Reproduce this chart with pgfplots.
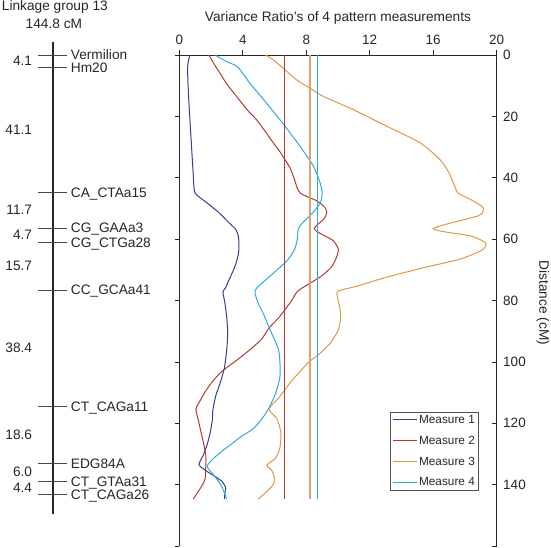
\documentclass[border=0pt]{standalone}
\usepackage{fontspec}
\setmainfont{Liberation Sans}
\usepackage{pgfplots}
\pgfplotsset{compat=1.18}
\definecolor{m1}{HTML}{3C3B8E}
\definecolor{m2}{HTML}{B3392F}
\definecolor{m3}{HTML}{E39447}
\definecolor{m4}{HTML}{2FA8DF}
\definecolor{t3}{HTML}{D9A46E}
\definecolor{txt}{HTML}{262626}
\pgfplotsset{
  base/.style={scale only axis, width=317.4pt, height=491pt,
    xmin=0, xmax=20, ymin=0, ymax=160, y dir=reverse, clip=false,
    at={(179.3pt,-55pt)}, anchor=north west,
    tick style={txt, line width=0.6pt}, major tick length=4.5pt,
    axis line style={line width=0.7pt, txt},
    /pgf/number format/assume math mode=true,
    every tick label/.append style={font=\fontsize{13.5}{16}\selectfont, text=txt}},
}
\begin{document}
\begin{tikzpicture}[font=\fontsize{13.7}{16}\selectfont, text=txt]
\path[use as bounding box] (0pt,0pt) rectangle (551pt,-548pt);
% linkage map
\begin{axis}[scale only axis, width=175pt, height=491pt, xmin=0, xmax=175,
  ymin=0, ymax=161.56, y dir=reverse, hide axis, clip=false,
  at={(0pt,-55pt)}, anchor=north west]
\addplot[line width=1.7pt, txt] coordinates {(52.7,-4.38) (52.7,151)};
\addplot[only marks, mark=-, mark size=14.2pt, mark options={line width=0.8pt, txt!85}]
  coordinates {(52.5,0) (52.5,4.1) (52.5,45.2) (52.5,56.9) (52.5,61.6) (52.5,77.3) (52.5,115.7) (52.5,134.3) (52.5,140.3) (52.5,144.7)};
\node[anchor=base west, inner sep=0pt] at (axis cs:1.7,-14.66) {Linkage group 13};
\node[anchor=base, inner sep=0pt] at (axis cs:53.9,-8.7) {144.8 cM};
\begin{scope}[every node/.style={anchor=base west, inner sep=0pt, yshift=-4.9pt}]
\node at (axis cs:70.7,0) {Vermilion};
\node at (axis cs:70.7,4.1) {Hm20};
\node at (axis cs:70.7,45.2) {CA\_CTAa15};
\node at (axis cs:70.7,56.9) {CG\_GAAa3};
\node at (axis cs:70.7,61.6) {CG\_CTGa28};
\node at (axis cs:70.7,77.3) {CC\_GCAa41};
\node at (axis cs:70.7,115.7) {CT\_CAGa11};
\node at (axis cs:70.7,134.3) {EDG84A};
\node at (axis cs:70.7,140.3) {CT\_GTAa31};
\node at (axis cs:70.7,144.7) {CT\_CAGa26};
\end{scope}
\begin{scope}[every node/.style={anchor=east, inner sep=0pt}]
\node at (axis cs:32.3,2.05) {4.1};
\node at (axis cs:32.3,24.65) {41.1};
\node at (axis cs:32.3,51.05) {11.7};
\node at (axis cs:32.3,59.25) {4.7};
\node at (axis cs:32.3,69.45) {15.7};
\node at (axis cs:32.3,96.5) {38.4};
\node at (axis cs:32.3,125) {18.6};
\node at (axis cs:32.3,137.3) {6.0};
\node at (axis cs:32.3,142.5) {4.4};
\end{scope}
\end{axis}
% left spine
\begin{axis}[base, axis x line=none, axis y line*=left, ytick={0,20,...,160},
  yticklabels={}, tick align=outside]
\end{axis}
% top axis
\begin{axis}[base, axis y line=none, axis x line*=top, xtick={0,4,...,20},
  xticklabels={0,4,8,12,16,20}, tick align=outside, xticklabel shift=2pt]
\node[anchor=base, inner sep=0pt] at (axis cs:10,-10.85) {Variance Ratio’s of 4 pattern measurements};
\end{axis}
% main axis
\begin{axis}[base, axis x line=none, axis y line*=right, ytick={0,20,...,160},
  yticklabels={0,20,40,60,80,100,120,140,{}}, tick align=inside, yticklabel shift=3pt,
  ylabel={Distance (cM)},
  ylabel style={at={(axis description cs:1.1459,0.495)}, rotate=180, anchor=center, font=\fontsize{13.7}{16}\selectfont},
  legend cell align=left,
  legend style={at={(axis description cs:0.945,0.1126)}, anchor=south east,
    draw=txt!80, line width=0.8pt, font=\fontsize{11.8}{14}\selectfont,
    inner xsep=2pt, inner ysep=1pt, row sep=7.2pt},
  legend image code/.code={\draw[#1, line width=0.9pt] (0pt,0pt) -- (24pt,0pt);},
  every axis plot/.append style={line width=1pt}]
\addplot[m1, smooth, tension=0.4] coordinates {
(0.67,0) (0.52,4.1) (0.6,15) (0.75,28) (0.88,39) (0.99,44.9) (1.7,48) (2.46,51.2)
(3.1,54.5) (3.55,56.8) (3.72,59) (3.76,62) (3.72,65) (3.5,69) (3.2,72.5) (2.9,76)
(2.75,77.2) (2.88,81) (3.0,86) (3.05,91) (2.98,96.5) (2.84,102) (2.6,106.5) (2.3,111)
(2.12,115.5) (2.08,119) (1.95,123) (1.75,127) (1.5,130.5) (1.24,133.5) (1.72,135.6)
(2.3,137.5) (2.7,139) (2.92,141) (2.88,142.5) (2.84,144.7)};
\addlegendentry{Measure 1}
\addplot[m2, smooth, tension=0.4] coordinates {
(1.86,0) (2.2,3) (2.56,5.9) (3.0,9.5) (3.61,13.5) (4.3,18) (4.87,21.1) (5.4,24.8)
(5.92,28.6) (6.3,31.2) (6.66,34.1) (7.0,37) (7.25,40.5) (7.6,44.9) (8.66,47.5)
(9.18,49.7) (9.29,51.5) (9.1,53.5) (8.5,56.5) (8.97,58.4) (9.7,60.5) (10.02,63.3)
(9.9,66) (9.6,69) (8.97,72) (8.13,74.7) (7.45,77) (7.08,80) (6.66,83) (6.2,86)
(5.65,89) (5.2,92.5) (4.66,95.1) (4.1,97.5) (3.61,99.5) (3.0,101.8) (2.5,104)
(2.0,107) (1.6,110) (1.3,112.8) (1.05,115.4) (1.2,119) (1.35,122.5) (1.55,127)
(1.68,131) (1.66,135) (1.62,138.2) (1.41,140.5) (0.88,144.7)};
\addlegendentry{Measure 2}
\addplot[m3, smooth, tension=0.4] coordinates {
(5.44,0) (5.92,1.6) (6.55,4.3) (7.39,8.1) (8.24,10.8) (9.08,13.5) (10.97,17.8)
(13.07,23.2) (15.17,28.6) (16.43,34.1) (16.95,38) (17.3,42) (17.55,44.9) (18.32,47)
(19.05,49.2) (19.16,50.3) (18.84,52.4) (16.0,56.6) (18.4,59) (19.3,61.3) (19.1,63.5)
(17.7,66.5) (15.4,69.3) (13.0,72.5) (11.28,75.2) (10.02,76.9) (9.95,78.5) (10.1,82)
(10.17,85.3) (10.02,89.6) (9.5,94) (8.8,97.5) (8.13,100.2) (7.08,106.2) (6.3,111.5)
(5.65,115.4) (6.15,118.5) (6.4,123) (6.34,128) (6.05,131.5) (5.52,133.6) (5.85,135.6)
(6.0,138.2) (5.85,140.5) (4.98,144.7)};
\addlegendentry{Measure 3}
\addplot[m4, smooth, tension=0.4] coordinates {
(2.25,0) (3.0,2.2) (3.68,3.9) (4.45,9.2) (5.5,15.7) (6.66,23.2) (7.6,29.7) (8.45,36.2)
(8.87,41.6) (9.0,44.9) (8.9,48) (8.4,51.5) (7.8,54.5) (7.5,56.6) (7.44,60) (7.25,63.5)
(6.8,67) (6.1,70.3) (5.4,73.5) (4.77,76.8) (4.98,81) (5.29,84.2) (5.65,88.7) (5.92,91.8)
(6.25,96) (6.34,100) (6.34,105) (6.05,110.5) (5.6,115.5) (5.1,119.3) (4.6,122)
(3.93,124.2) (3.3,126.7) (2.67,129.2) (2.15,131.5) (1.76,134) (2.1,136.5) (2.46,138.8)
(2.75,141.5) (2.98,144.7)};
\addlegendentry{Measure 4}
\addplot[m2, line width=1.1pt, forget plot] coordinates {(6.62,0) (6.62,144.7)};
\addplot[t3, line width=1.3pt, forget plot] coordinates {(8.24,0) (8.24,144.7)};
\addplot[m4, line width=1.1pt, forget plot] coordinates {(8.70,0) (8.70,144.7)};
\end{axis}
\end{tikzpicture}
\end{document}
